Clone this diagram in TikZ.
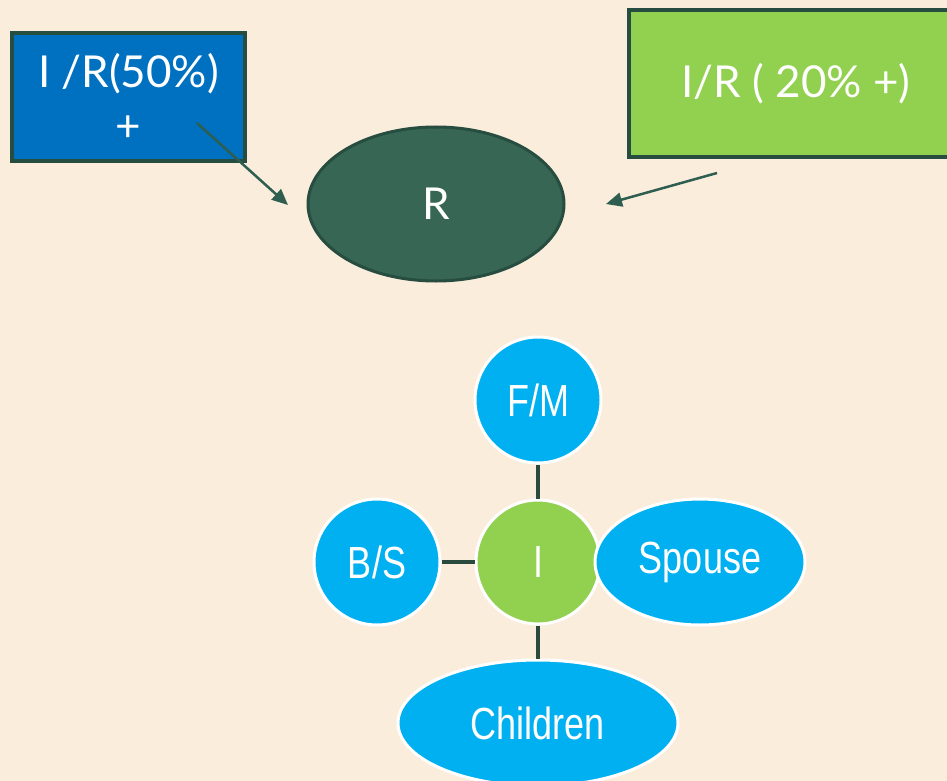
\documentclass[tikz,border=0pt]{standalone}
\usepackage{fontspec}
\setmainfont{Lato}
\newfontfamily\narrowsans[FakeStretch=0.8]{Liberation Sans}
\usetikzlibrary{shapes.geometric,arrows.meta}

\definecolor{paper}{HTML}{FAEDDC}
\definecolor{boxblue}{HTML}{0070C0}
\definecolor{leaf}{HTML}{92D050}
\definecolor{frame}{HTML}{264D40}
\definecolor{pine}{HTML}{376654}
\definecolor{arrowcol}{HTML}{2E5E50}
\definecolor{sky}{HTML}{00B0F0}
\definecolor{linkcol}{HTML}{2A4A3E}

\tikzset{
  labelbox/.style={rectangle, draw=frame, line width=3.5pt, text=white,
    inner sep=0pt, align=center, font=\fontsize{44}{54}\selectfont},
  core/.style={ellipse, draw=frame, line width=3pt, fill=pine, text=white,
    inner sep=0pt, font=\fontsize{44}{50}\selectfont},
  pointer/.style={draw=arrowcol, line width=2.5pt,
    -{Triangle[length=16pt,width=14pt]}},
  member/.style={draw=white, line width=3pt, fill=sky, text=white,
    inner sep=0pt, font=\narrowsans\fontsize{45}{50}\selectfont},
  link/.style={draw=linkcol, line width=4.5pt}
}

\begin{document}
\begin{tikzpicture}[x=1pt,y=-1pt]
  \fill[paper] (0,0) rectangle (947,781);
  \useasboundingbox (0,0) rectangle (947,781);

  % upper part: two labelled boxes pointing at R
  \node[labelbox, fill=boxblue, minimum width=233pt, minimum height=128pt]
    (half) at (128.5,97) {I /R(50\%)\\+};
  \node[labelbox, fill=leaf, minimum width=334pt, minimum height=147pt]
    (fifth) at (796,83.5) {I/R ( 20\% +)};
  \node[core, minimum width=256pt, minimum height=154pt] (r) at (436,204) {R};

  \coordinate (halfout) at (197,123);
  \coordinate (halfin) at (288,205);
  \coordinate (fifthout) at (717,173);
  \coordinate (fifthin) at (606,204);
  \draw[pointer] (halfout) -- (halfin);
  \draw[pointer] (fifthout) -- (fifthin);

  % lower part: family around I
  \node[member, circle, minimum size=126pt] (fm) at (538,400) {F/M};
  \node[member, circle, minimum size=126pt] (bs) at (377,562) {B/S};
  \node[member, circle, fill=leaf, minimum size=124pt] (ind) at (538,562) {I};
  \node[member, ellipse, minimum width=210pt, minimum height=126pt] (sp) at (700,562) {Spouse};
  \node[member, ellipse, minimum width=280pt, minimum height=126pt] (ch) at (538,723) {Children};

  \draw[link] (fm) -- (ind);
  \draw[link] (bs) -- (ind);
  \draw[link] (ind) -- (ch);
\end{tikzpicture}
\end{document}
